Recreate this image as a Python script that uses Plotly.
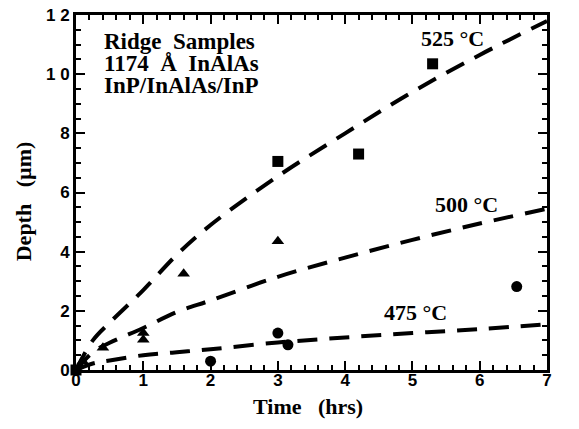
import plotly.graph_objects as go

# Measured data
sq_t = [0.0, 3.0, 4.2, 5.3]
sq_d = [0.0, 7.05, 7.3, 10.35]
tri_t = [0.1, 0.4, 1.0, 1.0, 1.6, 3.0]
tri_d = [0.3, 0.75, 1.02, 1.25, 3.25, 4.35]
circ_t = [2.0, 3.0, 3.15, 6.55]
circ_d = [0.3, 1.25, 0.85, 2.82]

# Fit curves
fit_t = [0, 0.25, 0.5, 1, 1.5, 2, 3, 4, 5, 6, 7]
fit_525 = [0, 1.0, 1.6, 2.7, 3.9, 4.9, 6.55, 8.0, 9.4, 10.65, 11.8]
fit_500 = [0, 0.6, 0.92, 1.42, 1.96, 2.35, 3.15, 3.8, 4.4, 4.95, 5.45]
fit_475 = [0, 0.22, 0.32, 0.5, 0.6, 0.7, 0.93, 1.1, 1.25, 1.38, 1.55]

x_ticks = [0, 1, 2, 3, 4, 5, 6, 7]
y_ticks = [0, 2, 4, 6, 8, 10, 12]
y_ticktext = ["0", "2", "4", "6", "8", "1 0", "1 2"]

curve_labels = ["525 °C", "500 °C", "475 °C"]
label_x = [5.6, 5.81, 5.05]
label_y = [11.2, 5.58, 1.93]

NB = "\u00a0"
info_lines = ["Ridge" + NB * 2 + "Samples", "1174" + NB * 2 + "Å" + NB * 2 + "InAlAs", "InP/InAlAs/InP"]
info_y = [0.924, 0.863, 0.801]

x_title = "Time" + NB * 3 + "(hrs)"
y_title = "Depth" + NB * 3 + "(µm)"

fig = go.Figure()
dash = "20px,12px"
for ys in (fit_525, fit_500, fit_475):
    fig.add_trace(go.Scatter(x=fit_t, y=ys, mode="lines", line_shape="spline",
                             line=dict(color="black", width=4, dash=dash),
                             showlegend=False, hoverinfo="skip"))

fig.add_trace(go.Scatter(x=sq_t, y=sq_d, mode="markers", cliponaxis=False,
                         marker=dict(symbol="square", size=11, color="black"), showlegend=False))
fig.add_trace(go.Scatter(x=tri_t, y=tri_d, mode="markers", cliponaxis=False,
                         marker=dict(symbol="triangle-up", size=11, color="black"), showlegend=False))
fig.add_trace(go.Scatter(x=circ_t, y=circ_d, mode="markers", cliponaxis=False,
                         marker=dict(symbol="circle", size=11, color="black"), showlegend=False))

serif = "Liberation Serif"
sans = "Liberation Sans"

for txt, x, y in zip(curve_labels, label_x, label_y):
    fig.add_annotation(x=x, y=y, text="<b>%s</b>" % txt, showarrow=False,
                       font=dict(family=serif, size=22, color="black"))

for txt, y in zip(info_lines, info_y):
    fig.add_annotation(xref="paper", yref="paper", x=0.055, y=y, xanchor="left", yanchor="middle",
                       showarrow=False, text="<b>%s</b>" % txt,
                       font=dict(family=serif, size=23, color="black"))

# axis titles
fig.add_annotation(xref="paper", yref="paper", x=0.4926, y=-0.104, xanchor="center", yanchor="middle",
                   showarrow=False, text="<b>%s</b>" % x_title,
                   font=dict(family=serif, size=22, color="black"))
fig.add_annotation(xref="paper", yref="paper", x=-0.112, y=0.476, xanchor="center", yanchor="middle",
                   showarrow=False, textangle=-90, text="<b>%s</b>" % y_title,
                   font=dict(family=serif, size=22, color="black"))

axis_common = dict(showline=True, linecolor="black", linewidth=3, mirror="ticks",
                   ticks="inside", ticklen=9, tickwidth=2, tickcolor="black",
                   showgrid=False, zeroline=False, automargin=False,
                   ticklabeloverflow="allow",
                   tickfont=dict(family=sans, size=17, color="black", weight="bold"))

fig.update_xaxes(range=[0, 7], tickvals=x_ticks, ticklabelstandoff=-7,
                 minor=dict(dtick=0.2, ticks="inside", ticklen=5, tickwidth=1.5, tickcolor="black"),
                 **axis_common)
fig.update_yaxes(range=[0, 12], tickvals=y_ticks, ticktext=y_ticktext,
                 minor=dict(dtick=0.5, ticks="inside", ticklen=5, tickwidth=1.5, tickcolor="black"),
                 **axis_common)

fig.update_layout(width=579, height=429, margin=dict(l=76, r=32, t=15, b=59),
                  plot_bgcolor="white", paper_bgcolor="white")

# remove the browser's default 8px body margin so the figure fills the window exactly
fig.write_html("out.html", config={"displayModeBar": False},
               post_script="document.body.style.margin='0';")
